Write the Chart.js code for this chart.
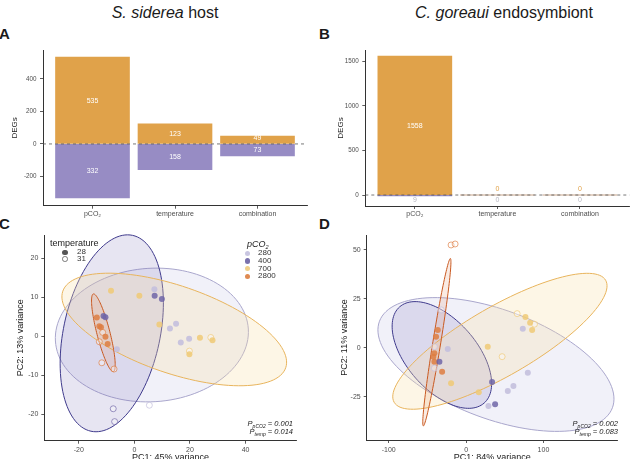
<!DOCTYPE html>
<html>
<head>
<meta charset="utf-8">
<script src="https://cdn.jsdelivr.net/npm/chart.js@4.4.1/dist/chart.umd.min.js"></script>
<style>
  body { margin: 0; background: #fff; overflow: hidden; }
  #fig { position: relative; width: 632px; height: 459px; overflow: hidden;
         font-family: 'Liberation Sans', Arial, Helvetica, sans-serif; color: #1a1a1a; }
  canvas { position: absolute; }
  .t { position: absolute; white-space: nowrap; line-height: 1; }
  .title { font-size: 16px; top: 4.5px; transform: translateX(-50%); }
  .letter { font-size: 15px; font-weight: bold; }
  .leg { font-size: 8px; color: #333; }
  .dot { position: absolute; width: 5.6px; height: 5.6px; border-radius: 50%; box-sizing: border-box; }
  .pval { font-size: 7.5px; font-style: italic; color: #1a1a1a; text-align: right; }
  .sub { position: relative; top: 2px; font-size: 5px; }
</style>
</head>
<body>
<div id="fig">
  <div class="t title" style="left:165px"><i>S. siderea</i> host</div>
  <div class="t title" style="left:504px"><i>C. goreaui</i> endosymbiont</div>
  <div class="t letter" style="left:-1px;top:25.5px">A</div>
  <div class="t letter" style="left:319px;top:25.5px">B</div>
  <div class="t letter" style="left:-1px;top:215.5px">C</div>
  <div class="t letter" style="left:319px;top:215.5px">D</div>

  <canvas id="chartA" width="316" height="180" style="left:0;top:40px"></canvas>
  <canvas id="chartB" width="316" height="180" style="left:316px;top:40px"></canvas>
  <canvas id="chartC" width="316" height="245" style="left:0;top:225px"></canvas>
  <canvas id="chartD" width="316" height="245" style="left:316px;top:225px"></canvas>

  <!-- legends, panel C -->
  <div class="t" style="left:50px;top:238.5px;font-size:9px;color:#222">temperature</div>
  <span class="dot" style="left:62.2px;top:249.5px;background:#555"></span>
  <span class="dot" style="left:62.2px;top:256.2px;border:0.8px solid #777"></span>
  <div class="t leg" style="left:77px;top:248.3px">28</div>
  <div class="t leg" style="left:77px;top:255px">31</div>

  <div class="t" style="left:247px;top:239.8px;font-size:9px;font-style:italic;color:#222">pCO<span class="sub" style="font-size:5.5px">2</span></div>
  <span class="dot" style="left:244.5px;top:250.5px;background:#c9c6e1"></span>
  <span class="dot" style="left:244.5px;top:258.2px;background:#7a72ad"></span>
  <span class="dot" style="left:244.5px;top:265.9px;background:#f0d08a"></span>
  <span class="dot" style="left:244.5px;top:273.5px;background:#df8a52"></span>
  <div class="t leg" style="left:258px;top:249.3px">280</div>
  <div class="t leg" style="left:258px;top:257px">400</div>
  <div class="t leg" style="left:258px;top:264.7px">700</div>
  <div class="t leg" style="left:258px;top:272.3px">2800</div>

  <div class="t pval" style="right:339px;top:420px">P<span class="sub">pCO2</span> = 0.001</div>
  <div class="t pval" style="right:339px;top:428px">P<span class="sub">temp</span> = 0.014</div>
  <div class="t pval" style="right:14px;top:420px">P<span class="sub">pCO2</span> = 0.002</div>
  <div class="t pval" style="right:14px;top:428px">P<span class="sub">temp</span> = 0.083</div>
</div>

<script>
// --- DEG counts (panels A, B) ---
const categories = ['pCO₂', 'temperature', 'combination'];
const hostUp = [535, 123, 49];
const hostDown = [332, 158, 73];
const symUp = [1558, 0, 0];
const symDown = [9, 0, 0];
const hostDegTicks = [-200, 0, 200, 400];
const symDegTicks = [0, 500, 1000, 1500];

// --- PCA samples, host (panel C) ---
const hostPC1 = [-8.4, 1.8, 7.2, 7.3, 9.9, 9.0, 12.8, 15.0, 19.7, 16.7, 23.6, 27.5, 28.1, 19.8, 19.8,
                 -13.5, -11.1, -10.4, -12.0, -12.6, -10.4, -9.6, -12.6, -11.4, -6.3, -11.7, -7.6, -7.1, 5.4, -7.3];
const hostPC2 = [11.7, 10.4, 12.1, 10.4, 9.6, 3.0, 2.0, 3.2, -0.6, -1.6, -0.4, -0.3, -1.0, -4.6, -3.8,
                 4.8, 5.2, 4.9, 2.3, 2.6, -0.1, -2.0, -1.4, 1.0, -3.3, -6.8, -18.6, -21.9, -17.7, -8.4];
const hostCO2 = [700, 700, 280, 400, 400, 700, 280, 280, 280, 280, 700, 700, 700, 700, 700,
                 2800, 400, 400, 2800, 2800, 2800, 2800, 2800, 2800, 280, 2800, 400, 400, 280, 2800];
const hostTemp = [28, 28, 28, 28, 28, 28, 28, 28, 28, 28, 28, 31, 28, 28, 31,
                  28, 28, 28, 28, 28, 28, 28, 31, 31, 28, 31, 31, 31, 31, 31];
const hostTicksX = [-20, 0, 20, 40];
const hostTicksY = [-20, -10, 0, 10, 20];

// --- PCA samples, symbiont (panel D) ---
const symPC1 = [-19.4, -14.2, -32, -36.6, -38.8, -41, -23.7, -41, -42.3, -41, -34.5, -41, -31, -19.4, 28,
                46.6, 16.4, 33.6, 53.9, 61.2, 79.8, 37.5, 28.9, 73.3, 66, 76.7, 82.8, 88.4, 85.4];
const symPC2 = [52.5, 53.0, 19.3, 9.0, 5.6, 0.5, -0.7, -2.9, -4.6, -7.2, -7.2, -10.5, -12.3, -18.2, 0.5,
                -4.6, -22.8, -17.5, -22.1, -19.6, -12.8, -28.9, -29.8, 9.7, 17.4, 15.7, 12.8, 12.0, 9.0];
const symCO2 = [2800, 2800, 280, 2800, 2800, 280, 280, 2800, 2800, 2800, 400, 280, 2800, 700, 700,
                700, 700, 400, 280, 280, 280, 400, 280, 280, 700, 700, 700, 700, 700];
const symTemp = [31, 31, 31, 28, 28, 31, 28, 28, 28, 28, 28, 31, 28, 28, 28,
                 31, 28, 28, 28, 28, 28, 28, 28, 28, 31, 28, 28, 31, 28];
const symTicksX = [-100, 0, 100];
const symTicksY = [-25, 0, 25, 50];

// --- 95% ellipses per pCO2 level (centre + semi-axis vectors, data units) ---
const co2Levels = [280, 400, 700, 2800];
const hostEllCX = [6.3, -8.13, 14.35, -11.15];
const hostEllCY = [0.33, 0.77, 1.75, 0.9];
const hostEllAX = [34.7, 7.48, 40.1, -3.6];
const hostEllAY = [1.54, 25.14, -9.82, 9.97];
const hostEllBX = [1.44, 17.0, -5.07, 2.27];
const hostEllBY = [-17.1, -2.6, -10.6, 0.41];
const symEllCX = [38.6, -31.3, 43.7, -37.8];
const symEllCY = [-8.6, -3.73, 3.27, 2.8];
const symEllAX = [150.6, 54.6, 136.7, 17.5];
const symEllAY = [-22.1, -24.6, 31.2, 42.8];
const symEllBX = [-24.6, 34.0, 22.4, 5.05];
const symEllBY = [-26.1, 11.8, -15.3, -0.31];

// colours
const upColor = '#e0a24a';
const downColor = '#978cc4';
const pointFill = ['rgba(196,192,222,0.9)', 'rgba(112,102,168,0.85)', 'rgba(240,202,118,0.85)', 'rgba(222,126,66,0.85)'];
const ellStroke = ['#a9a6cc', '#3f3a8c', '#e8b45c', '#c9581f'];
const ellFill = ['rgba(200,200,232,0.25)', 'rgba(110,100,178,0.17)', 'rgba(248,222,165,0.28)', 'rgba(226,130,80,0.16)'];
const axisColor = '#333333';
const fontFamily = "'Liberation Sans', Arial, Helvetica, sans-serif";

Chart.defaults.font.family = fontFamily;
Chart.defaults.color = '#4d4d4d';

const zeroLine = {
  id: 'zeroLine',
  afterDatasetsDraw(chart) {
    const { ctx, chartArea, scales } = chart;
    const y = scales.y.getPixelForValue(0);
    ctx.save();
    ctx.strokeStyle = '#555';
    ctx.lineWidth = 0.8;
    ctx.setLineDash([3, 3]);
    ctx.beginPath();
    ctx.moveTo(chartArea.left, y);
    ctx.lineTo(chartArea.right, y);
    ctx.stroke();
    ctx.restore();
  }
};

const barLabels = {
  id: 'barLabels',
  afterDatasetsDraw(chart) {
    const ctx = chart.ctx;
    const zero = chart.scales.y.getPixelForValue(0);
    ctx.save();
    ctx.font = '7px ' + fontFamily;
    ctx.textAlign = 'center';
    ctx.textBaseline = 'middle';
    chart.data.datasets.forEach((ds, d) => {
      chart.getDatasetMeta(d).data.forEach((bar, i) => {
        const h = Math.abs(bar.base - bar.y);
        const dir = d === 0 ? -1 : 1;
        ctx.fillStyle = h > 4 ? '#ffffff' : (d === 0 ? upColor : '#b7b7c2');
        ctx.fillText(String(Math.abs(ds.data[i].y)), bar.x, zero + dir * Math.max(h / 2, 5.5));
      });
    });
    ctx.restore();
  }
};

const ellipses = {
  id: 'ellipses',
  beforeDatasetsDraw(chart, args, opts) {
    const { ctx, scales: { x, y } } = chart;
    ctx.save();
    opts.cx.forEach((cx, k) => {
      ctx.beginPath();
      for (let i = 0; i <= 120; i++) {
        const t = i / 120 * Math.PI * 2;
        const vx = cx + Math.cos(t) * opts.ax[k] + Math.sin(t) * opts.bx[k];
        const vy = opts.cy[k] + Math.cos(t) * opts.ay[k] + Math.sin(t) * opts.by[k];
        const px = x.getPixelForValue(vx), py = y.getPixelForValue(vy);
        if (i === 0) ctx.moveTo(px, py); else ctx.lineTo(px, py);
      }
      ctx.closePath();
      ctx.fillStyle = ellFill[k];
      ctx.fill();
      ctx.strokeStyle = ellStroke[k];
      ctx.lineWidth = 1;
      ctx.stroke();
    });
    ctx.restore();
  }
};

function axisStyle() {
  return {
    offset: false,
    grid: { display: true, offset: false, drawOnChartArea: false, drawTicks: true, tickLength: 3, color: axisColor, lineWidth: 0.8 },
    border: { display: true, color: axisColor, width: 1 }
  };
}

function barChart(id, up, down, yMin, yMax, yTicks, pad, yWidth, xHeight, titlePad) {
  return new Chart(document.getElementById(id), {
    type: 'bar',
    data: {
      datasets: [
        { data: up.map((v, i) => ({ x: i, y: v })), backgroundColor: upColor },
        { data: down.map((v, i) => ({ x: i, y: -v })), backgroundColor: downColor }
      ]
    },
    options: {
      responsive: false,
      animation: false,
      layout: { padding: pad },
      datasets: { bar: { barThickness: 74 } },
      plugins: { legend: { display: false }, tooltip: { enabled: false } },
      scales: {
        x: {
          type: 'linear', min: -0.6, max: 2.6, stacked: true,
          ...axisStyle(),
          afterBuildTicks: s => { s.ticks = categories.map((c, i) => ({ value: i })); },
          afterFit: s => { s.height = xHeight; },
          ticks: { callback: v => categories[v], font: { size: 7 }, color: '#4d4d4d', padding: 1, maxRotation: 0, autoSkip: false }
        },
        y: {
          type: 'linear', min: yMin, max: yMax, stacked: true,
          ...axisStyle(),
          afterBuildTicks: s => { s.ticks = yTicks.map(v => ({ value: v })); },
          afterFit: s => { s.width = yWidth; },
          ticks: { callback: v => String(v), font: { size: 6.3 }, color: '#4d4d4d', padding: 3.5 },
          title: { display: true, text: 'DEGs', font: { size: 8 }, color: '#1a1a1a', padding: { top: titlePad } }
        }
      }
    },
    plugins: [zeroLine, barLabels]
  });
}

function pcaSets(pc1, pc2, co2, temp) {
  const sets = [];
  co2Levels.forEach((lvl, k) => {
    [28, 31].forEach(t => {
      const pts = [];
      pc1.forEach((v, i) => { if (co2[i] === lvl && temp[i] === t) pts.push({ x: v, y: pc2[i] }); });
      sets.push({
        data: pts,
        pointRadius: 3,
        backgroundColor: t === 28 ? pointFill[k] : 'rgba(255,255,255,0.35)',
        borderColor: pointFill[k],
        borderWidth: t === 28 ? 0 : 0.8
      });
    });
  });
  return sets;
}

function pcaChart(id, pc1, pc2, co2, temp, ell, xr, yr, xTicks, yTicks, pad, yWidth, xHeight, xTitle, yTitle, yTitlePad) {
  return new Chart(document.getElementById(id), {
    type: 'scatter',
    data: { datasets: pcaSets(pc1, pc2, co2, temp) },
    options: {
      responsive: false,
      animation: false,
      layout: { padding: pad },
      plugins: { legend: { display: false }, tooltip: { enabled: false }, ellipses: ell },
      scales: {
        x: {
          type: 'linear', min: xr[0], max: xr[1],
          ...axisStyle(),
          afterBuildTicks: s => { s.ticks = xTicks.map(v => ({ value: v })); },
          afterFit: s => { s.height = xHeight; },
          ticks: { callback: v => String(v), font: { size: 7 }, color: '#4d4d4d', padding: 2.5 },
          title: { display: true, text: xTitle, font: { size: 9 }, color: '#1a1a1a', padding: { bottom: 6.6 } }
        },
        y: {
          type: 'linear', min: yr[0], max: yr[1],
          ...axisStyle(),
          afterBuildTicks: s => { s.ticks = yTicks.map(v => ({ value: v })); },
          afterFit: s => { s.width = yWidth; },
          ticks: { callback: v => String(v), font: { size: 7 }, color: '#4d4d4d', padding: 3 },
          title: { display: true, text: yTitle, font: { size: 9 }, color: '#1a1a1a', padding: { top: yTitlePad } }
        }
      }
    },
    plugins: [ellipses]
  });
}

barChart('chartA', hostUp, hostDown, -380, 578, hostDegTicks, { top: 10, right: 9 }, 43, 14.3, 9.5);
barChart('chartB', symUp, symDown, -123, 1625, symDegTicks, { top: 10, right: 2.5 }, 49.3, 14, 19.5);

pcaChart('chartC', hostPC1, hostPC2, hostCO2, hostTemp,
  { cx: hostEllCX, cy: hostEllCY, ax: hostEllAX, ay: hostEllAY, bx: hostEllBX, by: hostEllBY },
  [-32.4, 58.4], [-26.8, 26], hostTicksX, hostTicksY, { top: 10, right: 19.3 }, 44.3, 29.3,
  'PC1: 45% variance', 'PC2: 13% variance', 15.3);

pcaChart('chartD', symPC1, symPC2, symCO2, symTemp,
  { cx: symEllCX, cy: symEllCY, ax: symEllAX, ay: symEllAY, bx: symEllBX, by: symEllBY },
  [-128.5, 196], [-47.2, 57.6], symTicksX, symTicksY, { top: 10, right: 14.3 }, 50.7, 30,
  'PC1: 84% variance', 'PC2: 11% variance', 22.9);
</script>
</body>
</html>
